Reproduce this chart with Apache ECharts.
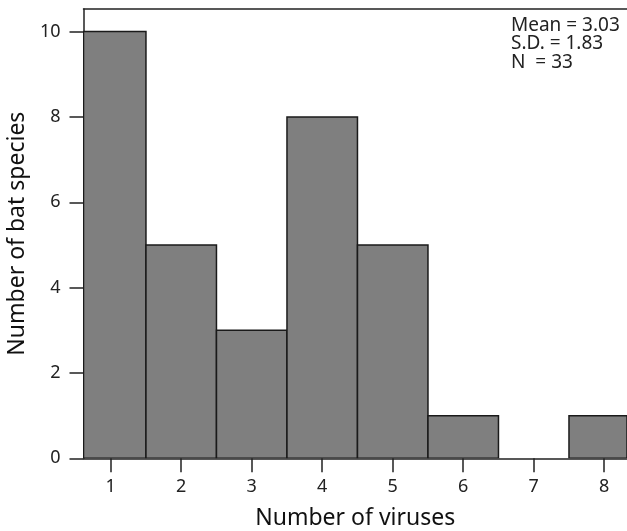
<!DOCTYPE html>
<html>
<head>
<meta charset="utf-8">
<script src="https://cdn.jsdelivr.net/npm/echarts@6/dist/echarts.min.js"></script>
<style>
  html, body { margin: 0; padding: 0; background: #fff; }
  #main { width: 627px; height: 531px; }
</style>
</head>
<body>
<div id="main"></div>
<script>
// histogram data: number of viruses per bat species
var virusCounts = [1, 2, 3, 4, 5, 6, 7, 8];
var speciesCounts = [10, 5, 3, 8, 5, 1, 0, 1];
var yTicks = [0, 2, 4, 6, 8, 10];
var statLines = ["Mean = 3.03", "S.D. = 1.83", "N  = 33"];

var FONT = "Noto Sans";

var chart = echarts.init(document.getElementById("main"));

var bins = virusCounts.map(function (v, i) {
  return [v - 0.5, v + 0.5, speciesCounts[i]];
});

chart.setOption({
  animation: false,
  grid: {
    left: 83.5,
    right: 0,
    top: 9,
    bottom: 72.7,
    outerBoundsMode: "none"
  },
  xAxis: [
    {
      type: "value",
      min: 0.614,
      max: 8.323,
      name: "Number of viruses",
      nameLocation: "middle",
      nameGap: 49,
      nameTextStyle: { fontFamily: FONT, fontSize: 23, color: "#111" },
      splitLine: { show: false },
      axisLine: { show: true, onZero: false, lineStyle: { color: "#222", width: 1.5 } },
      axisTick: { show: true, length: 14, lineStyle: { color: "#222", width: 1.5 }, customValues: virusCounts },
      axisLabel: {
        margin: 20,
        fontFamily: FONT,
        fontSize: 18,
        color: "#222",
        customValues: virusCounts
      }
    },
    {
      // top frame line
      type: "value",
      position: "top",
      min: 0.614,
      max: 8.323,
      axisLine: { show: true, onZero: false, lineStyle: { color: "#222", width: 1.5 } },
      axisTick: { show: false },
      axisLabel: { show: false },
      splitLine: { show: false }
    }
  ],
  yAxis: {
    type: "value",
    min: 0,
    max: 10.53,
    name: "Number of bat species",
    nameLocation: "middle",
    nameGap: 50,
    nameTextStyle: { fontFamily: FONT, fontSize: 23, color: "#111" },
    splitLine: { show: false },
    axisLine: { show: true, lineStyle: { color: "#222", width: 1.5 } },
    axisTick: { show: true, length: 14, lineStyle: { color: "#222", width: 1.5 }, customValues: yTicks },
    axisLabel: {
      margin: 23,
      fontFamily: FONT,
      fontSize: 18,
      color: "#222",
      customValues: yTicks
    }
  },
  series: [
    {
      type: "custom",
      clip: true,
      data: bins,
      renderItem: function (params, api) {
        if (api.value(2) <= 0) return;
        var p0 = api.coord([api.value(0), api.value(2)]);
        var p1 = api.coord([api.value(1), 0]);
        var rect = echarts.graphic.clipRectByRect(
          { x: p0[0], y: p0[1], width: p1[0] - p0[0], height: p1[1] - p0[1] },
          params.coordSys
        );
        return rect && {
          type: "rect",
          shape: rect,
          style: { fill: "#7f7f7f", stroke: "#1a1a1a", lineWidth: 1.5 }
        };
      }
    }
  ],
  graphic: [
    {
      type: "text",
      left: 511,
      top: 16,
      style: {
        text: statLines.join("\n"),
        font: "19px 'Noto Sans'",
        lineHeight: 18.5,
        fill: "#222"
      }
    }
  ]
});
</script>
</body>
</html>
